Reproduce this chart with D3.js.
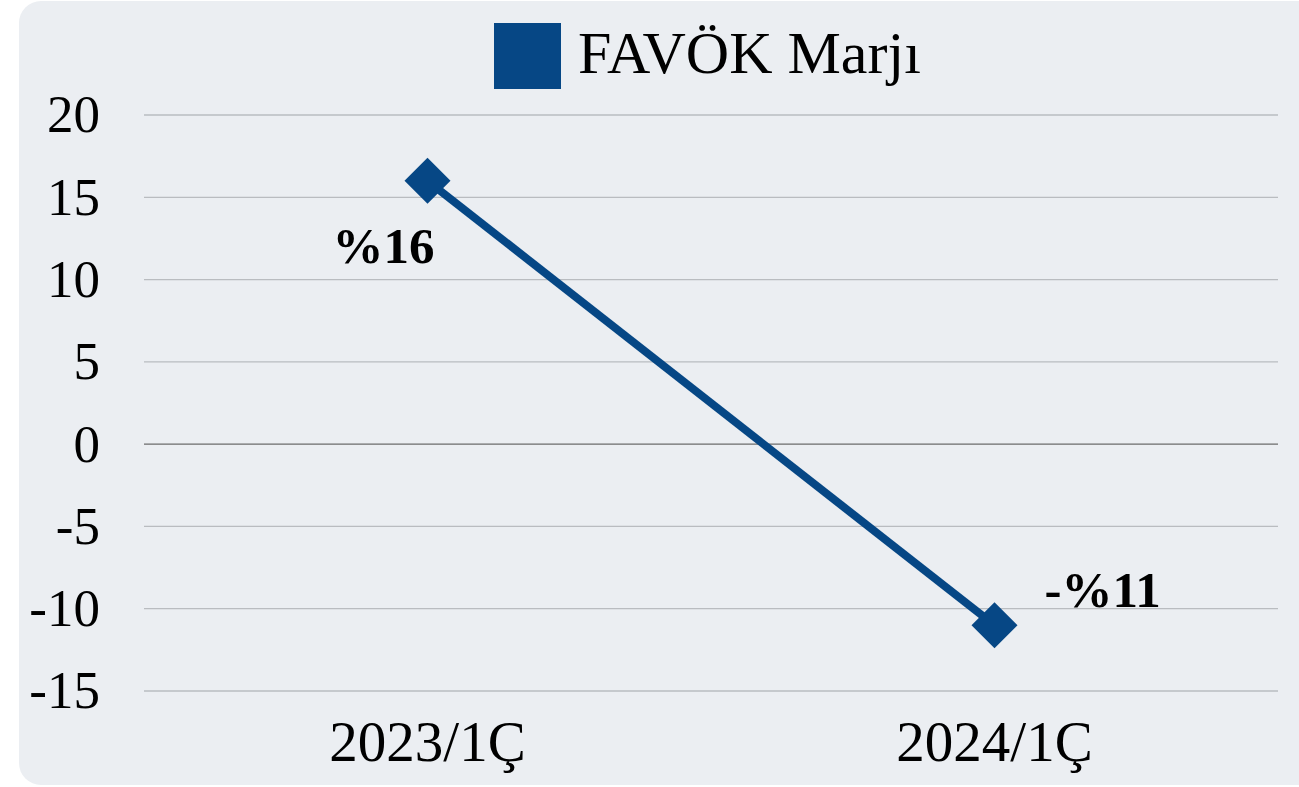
<!DOCTYPE html>
<html lang="tr">
<head>
<meta charset="UTF-8">
<title>FAVÖK Marjı</title>
<style>
  body { margin: 0; background: #fff; }
  text { font-family: "Liberation Serif", "Times New Roman", serif; }
</style>
</head>
<body>
<div id="chart"></div>
<script src="https://d3js.org/d3.v7.min.js"></script>
<script>
    var categories = ["2023/1Ç", "2024/1Ç"];
    var values = [16, -11];
    var labels = ["%16", "-%11"];
    var yTicks = [20, 15, 10, 5, 0, -5, -10, -15];
    var seriesName = "FAVÖK Marjı";

    var W = 1299, H = 787;
    var margin = {top: 115, right: 21, bottom: 96, left: 144};
    var color = "#064785";

    var svg = d3.select("#chart").append("svg")
        .attr("width", W)
        .attr("height", H);

    // panel background
    svg.append("rect")
        .attr("x", 19).attr("y", 1)
        .attr("width", W - 19 + 30).attr("height", 784)
        .attr("rx", 22).attr("ry", 22)
        .attr("fill", "#EBEEF2");

    var g = svg.append("g")
        .attr("transform", "translate(" + margin.left + "," + margin.top + ")");

    var w = W - margin.left - margin.right;

    var x = d3.scaleBand().domain(categories).range([0, w]);
    var y = d3.scaleLinear().domain([-15, 20]).range([576, 0]);

    // gridlines
    g.append("g").selectAll("line")
        .data(yTicks).enter()
        .append("line")
        .attr("x1", 0).attr("x2", w)
        .attr("y1", function (d) { return y(d); })
        .attr("y2", function (d) { return y(d); })
        .attr("stroke", function (d) { return d === 0 ? "#6b6b6b" : "#b9bcc0"; })
        .attr("stroke-width", 1.3);

    // Y axis
    var yAxis = g.append("g")
        .attr("transform", "translate(-44,0)")
        .call(d3.axisLeft(y).tickValues(yTicks).tickSize(0).tickPadding(0)
            .tickFormat(function (d) { return d < 0 ? "-" + Math.abs(d) : d; }));
    yAxis.select(".domain").remove();
    yAxis.selectAll("text")
        .attr("font-size", 53)
        .attr("fill", "#000")
        .attr("font-family", "Liberation Serif");

    // X axis
    var xAxis = g.append("g")
        .attr("transform", "translate(0," + y(-15) + ")")
        .call(d3.axisBottom(x).tickSize(0).tickPadding(30));
    xAxis.select(".domain").remove();
    xAxis.selectAll("text")
        .attr("font-size", 57)
        .attr("fill", "#000")
        .attr("font-family", "Liberation Serif");

    var cx = function (d, i) { return x(categories[i]) + x.bandwidth() / 2; };

    // line
    var line = d3.line()
        .x(function (d, i) { return cx(d, i); })
        .y(function (d) { return y(d); });

    g.append("path")
        .datum(values)
        .attr("d", line)
        .attr("fill", "none")
        .attr("stroke", color)
        .attr("stroke-width", 8);

    // diamond markers
    g.append("g").selectAll("path")
        .data(values).enter()
        .append("path")
        .attr("d", "M0,-23L23,0L0,23L-23,0Z")
        .attr("transform", function (d, i) {
            return "translate(" + cx(d, i) + "," + y(d) + ")";
        })
        .attr("fill", color);

    // data labels
    var labelOffsets = [{dx: -44, dy: 82, anchor: "middle"}, {dx: 50, dy: -18, anchor: "start"}];
    g.append("g").selectAll("text")
        .data(values).enter()
        .append("text")
        .attr("x", function (d, i) { return cx(d, i) + labelOffsets[i].dx; })
        .attr("y", function (d, i) { return y(d) + labelOffsets[i].dy; })
        .attr("text-anchor", function (d, i) { return labelOffsets[i].anchor; })
        .attr("font-size", 51)
        .attr("font-weight", "bold")
        .attr("fill", "#000")
        .text(function (d, i) { return labels[i]; });

    // legend
    var legend = svg.append("g").attr("transform", "translate(494,23)");
    legend.append("rect")
        .attr("width", 67).attr("height", 66)
        .attr("fill", color);
    legend.append("text")
        .attr("x", 84).attr("y", 50)
        .attr("font-size", 60)
        .attr("fill", "#000")
        .text(seriesName);
</script>
</body>
</html>
